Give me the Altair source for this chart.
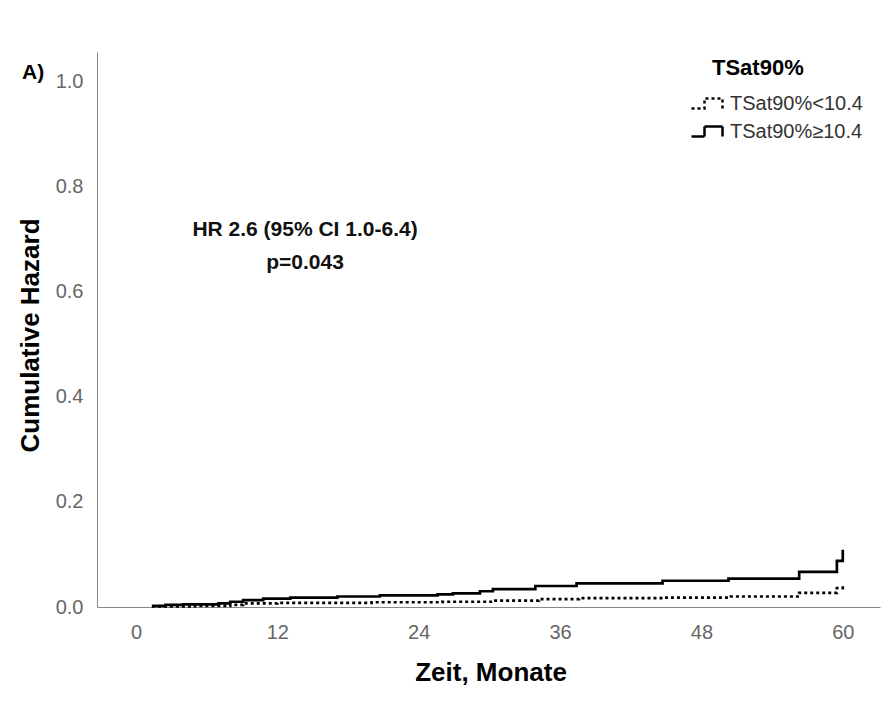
import altair as alt
import pandas as pd

# ---- data ----
group_low = "TSat90%<10.4"
group_high = "TSat90%≥10.4"

low_months = [1.35, 5.0, 8.0, 9.1, 12.0, 20.0, 26.0, 30.3, 34.2, 37.6, 44.7, 50.5, 56.3, 59.5, 60.0]
low_hazard = [0.001, 0.002, 0.004, 0.007, 0.008, 0.009, 0.010, 0.012, 0.015, 0.017, 0.018, 0.020, 0.027, 0.036, 0.042]

high_months = [1.35, 2.5, 4.0, 7.0, 8.0, 9.1, 10.8, 13.1, 17.1, 20.7, 25.6, 26.9, 29.2, 30.3, 33.9, 37.4, 44.7, 50.3, 56.3, 59.5, 60.0]
high_hazard = [0.002, 0.004, 0.005, 0.007, 0.010, 0.013, 0.016, 0.018, 0.020, 0.022, 0.024, 0.026, 0.030, 0.034, 0.040, 0.045, 0.050, 0.054, 0.067, 0.088, 0.109]

x_ticks = [0, 12, 24, 36, 48, 60]
y_ticks = [0.0, 0.2, 0.4, 0.6, 0.8, 1.0]

annot_lines = ["HR 2.6 (95% CI 1.0-6.4)", "p=0.043"]
annot_x = [14.35, 14.35]
annot_y = [0.718, 0.655]

# ---- tables ----
curves = pd.concat([
    pd.DataFrame({"Monate": low_months, "Hazard": low_hazard, "Gruppe": group_low}),
    pd.DataFrame({"Monate": high_months, "Hazard": high_hazard, "Gruppe": group_high}),
], ignore_index=True)
annot = pd.DataFrame({"text": annot_lines, "x": annot_x, "y": annot_y})

FONT = "Liberation Sans"
W, H = 783, 555
x_scale = alt.Scale(domain=[-3.31, 63.16], nice=False, zero=False)
y_scale = alt.Scale(domain=[0, 1.057], nice=False)

step_path = "M-2.2,0.5H-0.9V-0.5H0.9V0.5"

lines = alt.Chart(curves).mark_line(
    interpolate="step-after", strokeWidth=2.7, color="black", clip=False
).encode(
    x=alt.X("Monate:Q", scale=x_scale,
            axis=alt.Axis(values=x_ticks, title="Zeit, Monate", format="d",
                          titleX=W / 2 + 2, titleY=65, titleBaseline="middle")),
    y=alt.Y("Hazard:Q", scale=y_scale,
            axis=alt.Axis(values=y_ticks, title="Cumulative Hazard", format=".1f",
                          titleX=-67, titleY=283, titleBaseline="middle", titleAngle=-90)),
    strokeDash=alt.StrokeDash(
        "Gruppe:N",
        scale=alt.Scale(domain=[group_low, group_high], range=[[3, 3], [1, 0]]),
        legend=alt.Legend(
            title="TSat90%", orient="none", legendX=615, legendY=6,
            titleFont=FONT, titleFontSize=22, titleFontWeight="bold", titleColor="black",
            titleAnchor="start", titlePadding=12,
            labelFont=FONT, labelFontSize=20, labelColor="#333", labelOffset=5,
            symbolType=step_path, symbolSize=400, symbolStrokeWidth=2.5,
            symbolStrokeColor="black", symbolFillColor="transparent",
            symbolOffset=-10, rowPadding=6,
        ),
    ),
)

text = alt.Chart(annot).mark_text(
    font=FONT, fontSize=21, fontWeight="bold", color="#111",
    align="center", baseline="middle",
).encode(
    x=alt.X("x:Q", scale=x_scale),
    y=alt.Y("y:Q", scale=y_scale),
    text="text:N",
)

chart = alt.layer(lines, text).properties(
    width=W, height=H,
    autosize=alt.AutoSizeParams(type="none"),
    padding={"left": 97, "top": 52, "right": 6, "bottom": 108},
    title=alt.TitleParams(text="A)", anchor="start", frame="group", orient="top",
                          offset=0, dx=-75, dy=48, baseline="alphabetic",
                          font=FONT, fontSize=21, fontWeight="bold", color="black"),
).configure_view(stroke=None).configure_axis(
    grid=False, ticks=False, domainColor="#888", domainWidth=1,
    labelFont=FONT, labelFontSize=20, labelColor="#666", labelPadding=14,
    titleFont=FONT, titleFontSize=26, titleFontWeight="bold", titleColor="black",
).configure_axisX(labelPadding=15)

chart.save("out.html", embed_options={"renderer": "svg", "actions": False})
